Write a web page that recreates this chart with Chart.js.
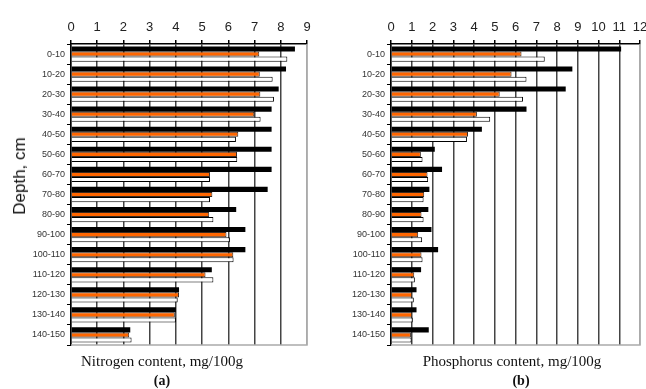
<!DOCTYPE html>
<html>
<head>
<meta charset="utf-8">
<script src="https://cdn.jsdelivr.net/npm/chart.js@4/dist/chart.umd.min.js"></script>
<style>
  html, body { margin: 0; padding: 0; background: #fff; }
  body { width: 646px; height: 389px; position: relative; overflow: hidden; }
  canvas { position: absolute; top: 0; }
  #cA { left: 0; }
  #cB { left: 320px; }
  .txt { position: absolute; white-space: nowrap; color: #111; }
  #depth { font-family: "Liberation Sans", Arial, sans-serif; font-size: 17px;
           left: 20px; top: 176px; transform: translate(-50%, -50%) rotate(-90deg); }
  .ttl { font-family: "Liberation Serif", "Times New Roman", serif; font-size: 15px; transform: translateX(-50%); }
  .sub { font-family: "Liberation Serif", "Times New Roman", serif; font-size: 14px; font-weight: bold; transform: translateX(-50%); }
</style>
</head>
<body>
<canvas id="cA" width="320" height="389"></canvas>
<canvas id="cB" width="336" height="389"></canvas>
<div class="txt" id="depth">Depth, cm</div>
<div class="txt ttl" style="left:162px; top:353px;">Nitrogen content, mg/100g</div>
<div class="txt sub" style="left:162px; top:373px;">(a)</div>
<div class="txt ttl" style="left:512px; top:353px;">Phosphorus content, mg/100g</div>
<div class="txt sub" style="left:521px; top:373px;">(b)</div>
<script>
// ---- data ----
const depthLabels = ["0-10","10-20","20-30","30-40","40-50","50-60","60-70","70-80","80-90","90-100","100-110","110-120","120-130","130-140","140-150"];

const nitrogenBlack  = [8.54, 8.20, 7.92, 7.65, 7.65, 7.65, 7.65, 7.50, 6.30, 6.65, 6.65, 5.37, 4.12, 4.00, 2.26];
const nitrogenOrange = [7.18, 7.20, 7.22, 6.99, 6.38, 6.33, 5.30, 5.39, 5.27, 5.93, 6.19, 5.13, 4.12, 3.96, 2.22];
const nitrogenWhite  = [8.25, 7.69, 7.74, 7.23, 6.29, 6.34, 5.30, 5.30, 5.43, 6.06, 6.20, 5.43, 4.07, 4.00, 2.31];

const phosphorusBlack  = [11.09, 8.74, 8.42, 6.53, 4.38, 2.11, 2.46, 1.85, 1.80, 1.95, 2.27, 1.45, 1.23, 1.23, 1.82];
const phosphorusOrange = [6.29, 5.81, 5.24, 4.14, 3.71, 1.44, 1.76, 1.60, 1.47, 1.31, 1.47, 1.12, 1.02, 1.02, 0.96];
const phosphorusWhite  = [7.41, 6.53, 6.36, 4.78, 3.66, 1.52, 1.79, 1.57, 1.57, 1.50, 1.52, 1.15, 1.10, 1.05, 0.99];

const nitrogenMax = 9;
const phosphorusMax = 12;

// ---- drawing ----
const edgePlugin = {
  id: 'edges',
  afterDraw(chart) {
    const a = chart.chartArea, ctx = chart.ctx;
    ctx.save();
    ctx.strokeStyle = '#aaaaaa';
    ctx.lineWidth = 1.5;
    ctx.beginPath();
    ctx.moveTo(a.left, a.bottom);
    ctx.lineTo(a.right, a.bottom);
    ctx.lineTo(a.right, a.top);
    ctx.stroke();
    ctx.restore();
  }
};

function makeChart(id, black, orange, white, maxV, padRight) {
  return new Chart(document.getElementById(id), {
    type: 'bar',
    data: {
      labels: depthLabels,
      datasets: [
        { data: black, backgroundColor: '#000000', borderColor: '#000000', borderWidth: 0 },
        { data: orange, backgroundColor: '#ff6600', borderColor: '#3a2a20', borderWidth: 1 },
        { data: white, backgroundColor: '#ffffff', borderColor: '#000000', borderWidth: 1 }
      ]
    },
    options: {
      indexAxis: 'y',
      responsive: false,
      animation: false,
      events: [],
      layout: { padding: { left: 0, right: padRight, top: 0, bottom: 44 } },
      datasets: { bar: { categoryPercentage: 0.76, barPercentage: 1.0 } },
      plugins: { legend: { display: false }, tooltip: { enabled: false }, title: { display: false } },
      scales: {
        x: {
          position: 'top',
          min: 0, max: maxV,
          afterFit(s) { s.height = 44; },
          ticks: { stepSize: 1, padding: 5, color: '#222', font: { family: 'Liberation Sans, Arial, sans-serif', size: 13 } },
          grid: {
            color: (c) => (c.tick && c.tick.value === maxV) ? '#aaaaaa' : '#444444',
            lineWidth: 1.5,
            tickColor: '#000',
            tickLength: 4
          },
          border: { display: true, color: '#000', width: 1.5 }
        },
        y: {
          afterFit(s) { s.width = 71; },
          ticks: { padding: 2, color: '#333', font: { family: 'Liberation Sans, Arial, sans-serif', size: 9 } },
          grid: { drawOnChartArea: false, drawTicks: true, tickLength: 4, color: '#000', offset: true },
          border: { display: true, color: '#000', width: 1.5 }
        }
      }
    },
    plugins: [edgePlugin]
  });
}

makeChart('cA', nitrogenBlack, nitrogenOrange, nitrogenWhite, nitrogenMax, 13);
makeChart('cB', phosphorusBlack, phosphorusOrange, phosphorusWhite, phosphorusMax, 16);
</script>
</body>
</html>
